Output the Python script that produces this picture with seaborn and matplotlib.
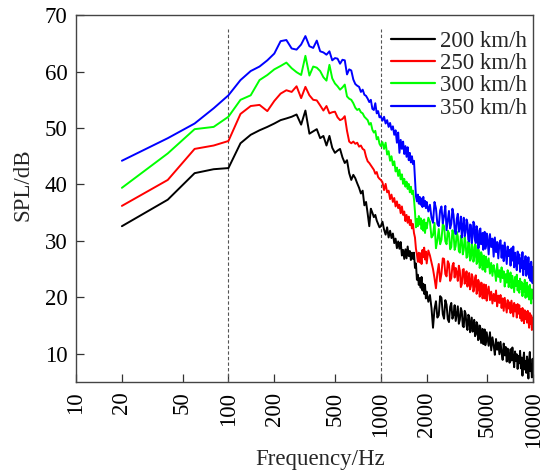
import numpy as np
import pandas as pd
import matplotlib
matplotlib.use("Agg")
import matplotlib.pyplot as plt
import seaborn as sns
from matplotlib.ticker import FixedLocator, NullLocator, FixedFormatter

# Frecuencias de las bandas (Hz)
freq = np.concatenate([
    np.arange(20, 1001, 20),
    np.arange(1025, 2001, 25),
    np.arange(2050, 5001, 50),
    np.arange(5100, 10001, 100),
])

speeds = ["200 km/h", "250 km/h", "300 km/h", "350 km/h"]
colors = ["#000000", "#ff0000", "#00ff00", "#0000ff"]

spl_200 = [
    # 20 - 1000 Hz
    32.6, 37.3, 42.0, 42.7, 42.9, 47.3, 48.8, 49.6, 50.2,
    50.8, 51.4, 51.7, 52.0, 52.4, 50.6, 53.1, 49.0, 49.4, 49.8,
    48.2, 48.6, 46.9, 48.6, 46.5, 45.6, 46.0, 46.3, 44.8, 43.8,
    44.3, 42.0, 40.8, 41.7, 41.1, 40.2, 39.4, 38.4, 38.9, 36.3,
    36.9, 34.8, 32.6, 35.7, 35.0, 34.2, 34.6, 33.6, 33.0, 32.4, 32.6,
    # 1025 - 2000 Hz
    33.4, 32.0, 31.1, 32.4, 30.6, 31.8, 30.5, 31.3, 29.6, 30.4,
    28.7, 29.9, 28.6, 29.8, 27.4, 28.4, 26.8, 28.5, 26.9, 29.0,
    27.3, 28.2, 26.6, 27.9, 26.8, 27.9, 25.2, 26.0, 23.1, 24.0,
    22.2, 23.4, 21.7, 23.6, 21.2, 22.4, 20.6, 22.2, 19.8, 21.0,
    # 2050 - 5000 Hz
    19.2, 20.4, 18.1, 14.6, 17.9, 19.3, 16.4, 16.8, 20.2, 19.9,
    17.0, 16.2, 19.5, 18.7, 16.1, 15.6, 18.3, 19.0, 16.2, 16.9,
    18.6, 15.8, 17.1, 18.4, 15.3, 16.0, 18.1, 17.5, 14.9, 14.7,
    17.6, 17.1, 15.0, 14.2, 16.9, 16.6, 13.8, 15.1, 16.4, 13.9,
    14.8, 16.0, 13.1, 13.4, 15.6, 15.2, 12.4, 12.6, 15.0, 14.6,
    11.9, 13.1, 14.4, 11.7, 12.9, 14.3, 11.5, 12.2, 13.8, 13.0,
    # 5100 - 10000 Hz
    11.4, 13.8, 10.6, 12.9, 11.5, 9.8, 12.6, 10.7, 12.0, 9.9,
    12.1, 10.2, 8.9, 11.8, 9.7, 11.2, 8.6, 10.9, 9.5, 8.4,
    10.8, 8.8, 11.1, 9.2, 7.6, 10.4, 8.7, 9.9, 7.3, 9.6,
    8.3, 10.5, 7.4, 9.3, 6.1, 9.0, 10.2, 7.2, 8.7, 6.6,
    9.5, 7.6, 5.6, 8.9, 10.3, 6.9, 8.1, 5.8, 9.1, 7.0,
]

spl_250 = [
    36.2, 40.8, 46.3, 46.9, 47.7, 52.5, 53.9, 54.1, 53.0,
    54.8, 56.1, 56.7, 56.4, 57.4, 55.3, 57.3, 55.8, 55.0, 54.9,
    54.0, 53.1, 53.9, 52.6, 52.8, 52.9, 51.9, 51.4, 51.6, 52.1,
    49.5, 47.6, 47.3, 47.6, 47.2, 47.4, 46.7, 46.9, 46.3, 46.1,
    44.9, 44.1, 43.8, 43.4, 43.0, 42.6, 41.9, 42.2, 41.3, 41.0, 40.8,
    40.4, 39.0, 40.1, 38.6, 38.9, 37.4, 38.2, 36.9, 37.6, 36.1,
    37.0, 35.8, 36.4, 34.9, 36.1, 34.6, 35.2, 33.5, 34.6, 33.2,
    34.3, 32.8, 33.7, 32.2, 33.0, 31.4, 30.6, 28.6, 27.6, 26.3,
    27.9, 26.2, 27.8, 25.9, 28.4, 27.1, 28.8, 26.7, 28.1, 26.0,
    28.3, 27.4, 26.2, 25.0, 23.4, 21.6, 24.3, 25.9, 22.8, 24.2,
    26.9, 26.8, 24.1, 23.7, 26.4, 25.9, 22.9, 23.4, 25.6, 26.1,
    23.5, 25.2, 24.4, 22.9, 25.6, 24.7, 21.8, 22.3, 24.9, 25.0,
    22.4, 23.1, 24.6, 21.9, 23.2, 24.3, 21.4, 22.0, 24.1, 23.6,
    21.0, 21.7, 23.4, 23.9, 20.6, 21.2, 23.1, 22.8, 20.1, 20.4,
    22.6, 22.5, 19.8, 20.9, 22.3, 19.8, 21.0, 22.2, 19.4, 20.6,
    21.9, 19.5, 21.0, 18.9, 20.6, 19.3, 21.2, 18.4, 20.3, 19.0,
    20.4, 18.1, 19.8, 17.6, 19.9, 18.6, 17.3, 19.5, 18.0, 19.1,
    17.2, 19.4, 17.9, 16.6, 19.0, 17.5, 18.6, 16.4, 18.8, 17.1,
    18.6, 16.3, 17.9, 15.8, 18.1, 16.9, 15.4, 17.7, 16.2, 17.4,
    15.5, 17.6, 16.0, 14.6, 17.2, 15.3, 16.8, 14.2, 16.4, 15.1,
]

spl_300 = [
    39.4, 45.5, 49.8, 50.2, 52.0, 55.0, 55.8, 58.5, 59.4,
    60.4, 61.0, 61.6, 60.6, 59.9, 59.4, 62.8, 59.3, 60.9, 60.7,
    60.1, 59.0, 58.4, 61.2, 58.8, 57.9, 57.4, 56.8, 57.2, 57.7,
    55.6, 55.2, 55.0, 54.4, 53.6, 53.2, 53.4, 52.8, 52.6, 52.0,
    51.7, 51.4, 50.6, 50.9, 49.7, 49.2, 49.5, 48.0, 48.4, 47.2, 46.8,
    47.5, 46.3, 47.4, 45.3, 45.9, 44.2, 45.0, 43.4, 44.1, 42.3,
    43.0, 41.5, 42.6, 40.9, 41.8, 40.1, 41.0, 39.6, 40.5, 39.2,
    40.1, 38.6, 39.6, 38.3, 38.9, 37.4, 35.2, 32.4, 33.9, 32.6,
    34.4, 32.9, 34.0, 32.1, 33.6, 31.8, 33.8, 31.4, 33.2, 32.2,
    34.1, 33.4, 30.6, 31.0, 33.2, 28.7, 30.1, 32.1, 29.4, 30.2,
    33.0, 32.6, 29.9, 29.4, 31.8, 31.4, 28.5, 28.9, 31.9, 31.3,
    28.4, 29.1, 31.6, 30.8, 28.2, 27.9, 30.9, 30.2, 27.6, 28.4,
    30.6, 29.7, 27.0, 27.2, 29.9, 29.4, 26.5, 26.8, 29.5, 28.9,
    26.3, 27.0, 29.4, 29.1, 25.9, 26.2, 28.6, 28.3, 25.2, 25.6,
    28.0, 27.6, 24.9, 26.0, 27.4, 24.8, 24.5, 27.2, 26.1, 25.3,
    26.9, 24.2, 26.1, 23.8, 25.7, 24.6, 22.9, 25.9, 23.6, 24.8,
    22.7, 25.3, 23.4, 24.6, 21.9, 24.1, 22.6, 24.8, 21.8, 23.5,
    24.4, 21.6, 23.8, 22.3, 20.9, 23.6, 22.0, 24.0, 21.2, 22.9,
    20.8, 23.3, 21.5, 22.7, 20.2, 22.4, 21.0, 23.1, 19.9, 21.8,
    22.6, 20.1, 21.9, 19.6, 22.2, 20.5, 18.9, 21.4, 19.8, 20.9,
]

spl_350 = [
    44.2, 48.2, 50.8, 53.5, 55.8, 58.5, 60.1, 60.9, 62.0,
    63.2, 65.4, 65.6, 64.1, 63.9, 64.8, 66.3, 64.5, 64.2, 65.5,
    63.6, 63.4, 63.0, 63.6, 62.0, 62.4, 62.3, 61.4, 62.1, 62.0,
    59.5, 60.4, 60.2, 58.6, 57.8, 57.5, 57.3, 56.4, 56.8, 55.9,
    55.7, 55.2, 54.6, 55.0, 53.4, 53.2, 54.4, 52.6, 53.0, 51.9, 52.1,
    51.3, 52.0, 50.8, 51.4, 50.2, 50.9, 49.7, 50.3, 48.8, 49.6,
    47.4, 49.2, 45.6, 47.9, 46.3, 47.6, 45.4, 46.8, 44.9, 46.6,
    44.3, 45.6, 43.9, 45.0, 43.6, 44.2, 41.0, 37.9, 37.0, 38.2,
    36.6, 37.8, 36.4, 37.5, 36.0, 37.8, 36.2, 37.1, 35.8, 36.9,
    35.2, 36.4, 34.1, 33.2, 36.9, 35.8, 33.0, 32.6, 35.4, 36.1,
    33.1, 34.4, 36.2, 31.9, 33.6, 35.3, 32.2, 33.0, 35.7, 34.6,
    32.0, 31.2, 33.9, 34.8, 31.6, 32.4, 34.3, 30.6, 32.5, 34.1,
    30.8, 31.5, 33.8, 33.2, 30.2, 29.9, 32.9, 32.8, 29.6, 30.7,
    33.4, 33.0, 30.1, 29.6, 32.6, 31.9, 28.7, 28.8, 31.8, 32.2,
    29.4, 30.3, 31.4, 28.4, 29.8, 31.6, 28.6, 29.2, 31.3, 30.9,
    27.6, 31.2, 28.9, 30.4, 27.2, 30.6, 28.0, 29.8, 26.9, 29.6,
    30.1, 27.0, 29.2, 26.4, 29.7, 27.8, 25.9, 29.0, 27.3, 28.4,
    25.6, 28.7, 26.5, 29.0, 25.3, 27.9, 26.2, 24.8, 28.1, 26.0,
    27.6, 24.5, 26.9, 25.2, 28.0, 23.9, 26.4, 25.0, 27.3, 23.8,
    26.6, 24.2, 27.1, 23.4, 25.8, 22.9, 26.3, 24.6, 22.5, 25.4,
]

xticks = [10, 20, 50, 100, 200, 500, 1000, 2000, 5000, 10000]
yticks = [10, 20, 30, 40, 50, 60, 70]

# Tabla larga para seaborn
frames = []
for name, vals in zip(speeds, [spl_200, spl_250, spl_300, spl_350]):
    frames.append(pd.DataFrame({"freq": freq, "spl": vals, "speed": name}))
df = pd.concat(frames, ignore_index=True)

sns.set_style("ticks")
plt.rcParams["font.family"] = ["Liberation Serif", "DejaVu Serif"]
plt.rcParams["font.size"] = 16.5

fig = plt.figure(figsize=(5.43, 4.75), dpi=100)
ax = fig.add_axes([0.140, 0.196, 0.842, 0.772])

sns.lineplot(
    data=df, x="freq", y="spl", hue="speed", palette=colors,
    estimator=None, linewidth=1.4, ax=ax,
)

ax.set_xscale("log")
ax.set_xlim(10, 10000)
ax.set_ylim(5, 70)

# Líneas verticales discontinuas en 100 y 1000 Hz
ax.vlines([100, 1000], 5, 67.5, colors="#555555", linestyles=(0, (3, 2)),
          linewidth=0.8, zorder=1)

ax.xaxis.set_major_locator(FixedLocator(xticks))
ax.xaxis.set_major_formatter(FixedFormatter([str(t) for t in xticks]))
ax.xaxis.set_minor_locator(NullLocator())
ax.set_yticks(yticks)
ax.tick_params(axis="both", direction="in", length=5.5, width=0.9,
               colors="#333333", labelcolor="black", labelsize=16.5)
ax.tick_params(axis="x", labelrotation=90, pad=7)
ax.tick_params(axis="y", pad=6)

for sp in ax.spines.values():
    sp.set_color("#444444")
    sp.set_linewidth(1.0)

ax.set_xlabel("Frequency/Hz", fontsize=16.5)
ax.set_ylabel("SPL/dB", fontsize=16.5)
ax.xaxis.set_label_coords(0.534, -0.183)
ax.yaxis.set_label_coords(-0.092, 0.539)

leg = ax.legend(loc="upper right", bbox_to_anchor=(0.987, 0.957),
                frameon=False, fontsize=16.5, handlelength=1.9,
                handletextpad=0.25, labelspacing=0.05,
                borderaxespad=0.0, borderpad=0.0)
for line in leg.get_lines():
    line.set_linewidth(1.6)

fig.savefig("out.png", dpi=100)
